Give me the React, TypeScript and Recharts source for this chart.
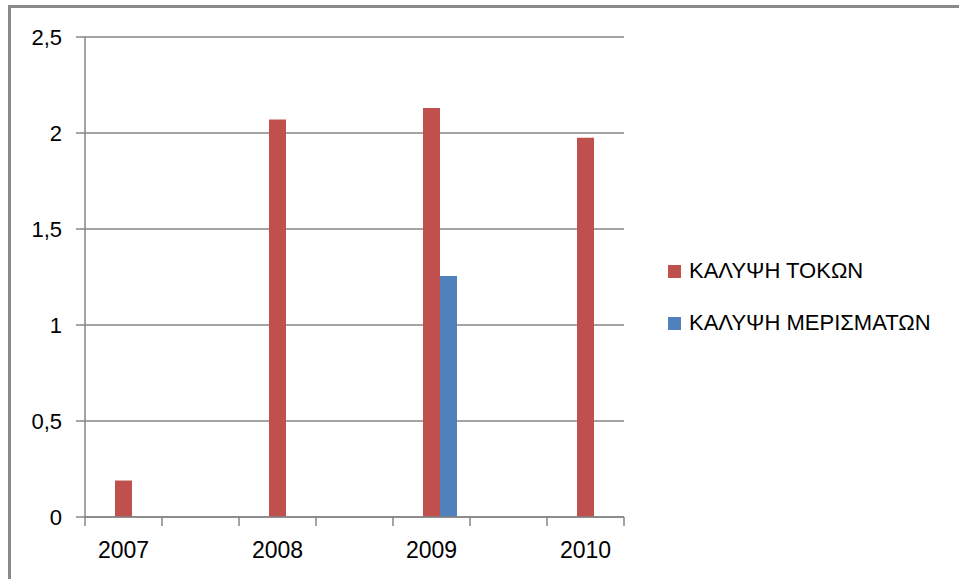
import React from "react";
import { BarChart, Bar, XAxis, YAxis, CartesianGrid, Legend } from "recharts";

const categories = ["2007", "", "2008", "", "2009", "", "2010"];
const tokon = [0.19, null, 2.07, null, 2.13, null, 1.975];
const merismaton = [null, null, null, null, 1.255, null, null];
const spacer = [null, null, null, null, null, null, null];
const yTicks = [0, 0.5, 1, 1.5, 2, 2.5];
const seriesNames = ["ΚΑΛΥΨΗ ΤΟΚΩΝ", "ΚΑΛΥΨΗ ΜΕΡΙΣΜΑΤΩΝ"];

const data = categories.map((c, i) => ({
  name: c,
  spacer: spacer[i],
  tokon: tokon[i],
  merismaton: merismaton[i],
}));

const W = 959;
const H = 579;
const margin = { top: 37, right: 335, bottom: 0, left: 0 };
const yAxisWidth = 85;
const plotWidth = W - margin.left - margin.right - yAxisWidth;
const band = plotWidth / categories.length;
const GRID = "#868686";
const FONT = "'Liberation Sans', Arial, sans-serif";

const XTick = (props: any) => {
  const { x, y, payload, index } = props;
  const left = x - band / 2;
  const right = x + band / 2;
  return (
    <g>
      <line x1={left} y1={y} x2={left} y2={y + 9} stroke={GRID} strokeWidth={1.5} />
      {index === categories.length - 1 && (
        <line x1={right} y1={y} x2={right} y2={y + 9} stroke={GRID} strokeWidth={1.5} />
      )}
      <text x={x} y={y + 41} textAnchor="middle" fontSize={23} fill="#000" fontFamily={FONT}>
        {payload.value}
      </text>
    </g>
  );
};

const LegendContent = (props: any) => {
  const items = (props.payload || [])
    .filter((p: any) => p.type !== "none" && seriesNames.indexOf(p.value) >= 0)
    .sort((a: any, b: any) => seriesNames.indexOf(a.value) - seriesNames.indexOf(b.value));
  return (
    <div style={{ fontFamily: FONT }}>
      {items.map((p: any, i: number) => (
        <div key={i} style={{ display: "flex", alignItems: "center", height: 52 }}>
          <div style={{ width: 13, height: 13, background: p.color, marginRight: 8 }} />
          <span style={{ fontSize: 22, color: "#000", lineHeight: "22px" }}>{p.value}</span>
        </div>
      ))}
    </div>
  );
};

export default function App() {
  return (
    <div style={{ position: "absolute", left: 0, top: 0, width: W, height: H, background: "#fff", overflow: "hidden" }}>
      <div
        style={{
          position: "absolute",
          left: 8,
          top: 5,
          width: W,
          height: H,
          borderTop: "3px solid #8a8a8a",
          borderLeft: "3px solid #8a8a8a",
        }}
      />
      <div style={{ position: "absolute", left: 0, top: 0 }}>
        <BarChart width={W} height={H} data={data} margin={margin} barGap={0} barSize={17}>
          <CartesianGrid vertical={false} stroke={GRID} strokeWidth={1.5} />
          <XAxis
            dataKey="name"
            height={62}
            tickSize={0}
            tickMargin={0}
            axisLine={{ stroke: GRID, strokeWidth: 1.5 }}
            tick={<XTick />}
            interval={0}
          />
          <YAxis
            width={yAxisWidth}
            domain={[0, 2.5]}
            ticks={yTicks}
            interval={0}
            tickSize={9}
            tickMargin={14}
            axisLine={{ stroke: GRID, strokeWidth: 1.5 }}
            tickLine={{ stroke: GRID, strokeWidth: 1.5 }}
            tick={{ fill: "#000", fontSize: 22, fontFamily: FONT }}
            tickFormatter={(v: number) => String(v).replace(".", ",")}
          />
          <Legend
            layout="vertical"
            align="center"
            verticalAlign="middle"
            itemSorter={null as any}
            content={<LegendContent />}
            wrapperStyle={{ position: "absolute", left: 668, top: 245, width: 290 }}
          />
          <Bar dataKey="spacer" fill="none" legendType="none" isAnimationActive={false} />
          <Bar dataKey="tokon" name={seriesNames[0]} fill="#C0504D" isAnimationActive={false} />
          <Bar dataKey="merismaton" name={seriesNames[1]} fill="#4F81BD" isAnimationActive={false} />
        </BarChart>
      </div>
    </div>
  );
}
